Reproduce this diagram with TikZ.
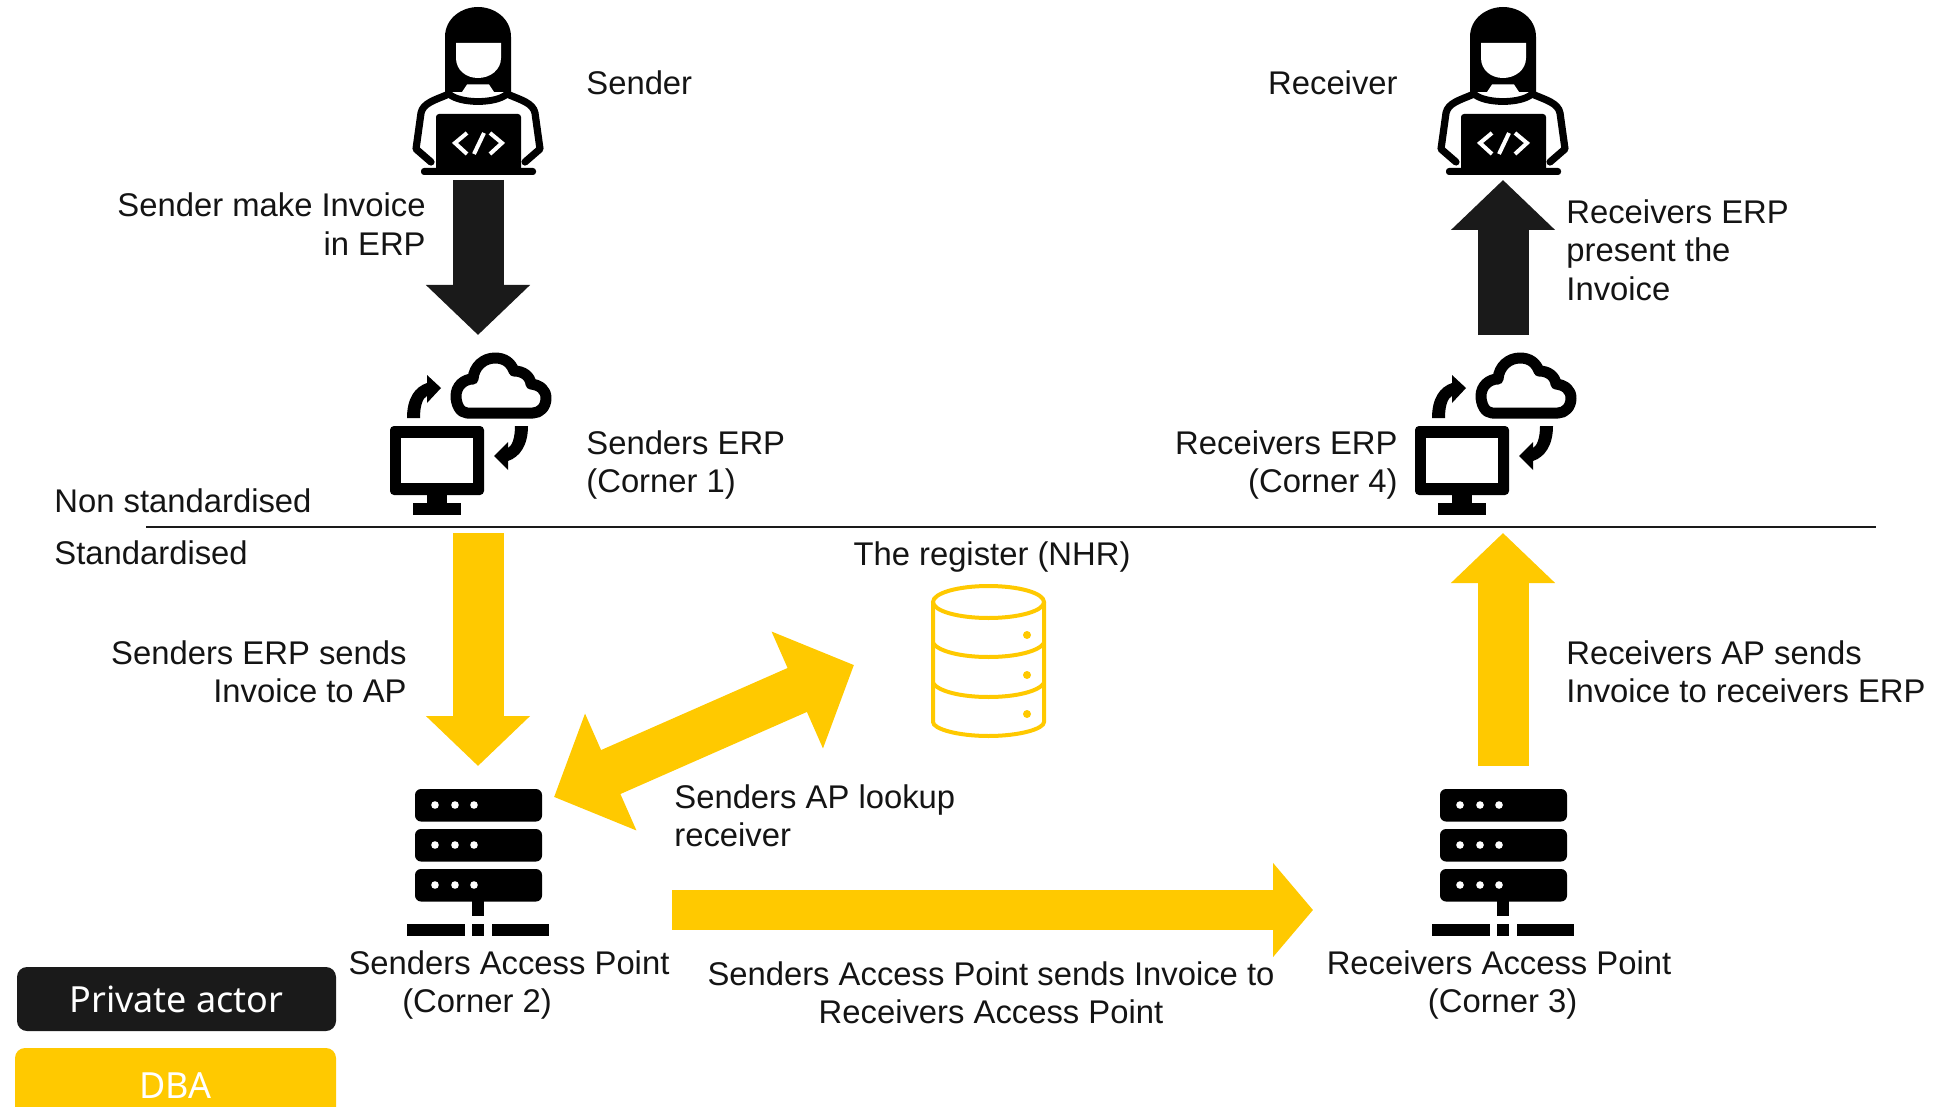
\documentclass[tikz,border=0pt]{standalone}
\usepackage{fontspec}
\setmainfont{Liberation Sans}
\newfontfamily\legendfont{Noto Sans}
\usetikzlibrary{arrows.meta}
\definecolor{dbayellow}{HTML}{FFC900}
\definecolor{privateblack}{HTML}{1A1A1A}
\tikzset{
  lbl/.style={inner sep=0pt,font=\fontsize{16.4pt}{19.25pt}\selectfont,text=black!92},
  iconbox/.style={inner sep=0pt,outer sep=0pt,minimum width=#1},
  blockdown/.style={line width=25.5pt,-{Triangle[width=50.6pt,length=25pt]}},
  blockboth/.style={line width=24pt,{Triangle[width=62pt,length=31pt]}-{Triangle[width=62pt,length=31pt]}},
  legendbox/.style={rounded corners=5pt,inner sep=0pt,text=white},
}
\newcommand{\personicon}{%
  \fill[black] (445,92) -- (445,37) .. controls (445,18) and (462,7) .. (478,7) .. controls (494,7) and (511,18) .. (511,37) -- (511,92) -- cycle;
  \fill[white] (467,84.5) -- (489,84.5) -- (494,92) .. controls (485,96) and (471,96) .. (462,92) -- cycle;
  \fill[white] (456,43) -- (501,43) -- (501,58) .. controls (501,70) and (490,78) .. (478,78) .. controls (466,78) and (456,70) .. (456,58) -- cycle;
  \draw[black,line width=3.6pt,line join=round,line cap=round] (431,162) -- (416,149) -- (421,113) .. controls (423,103) and (435,100) .. (449,94);
  \draw[black,line width=3.6pt,line join=round,line cap=round] (525,162) -- (540,149) -- (535,113) .. controls (533,103) and (521,100) .. (507,94);
  \draw[black,line width=3.4pt] (449,94) .. controls (460,104) and (496,104) .. (507,94);
  \fill[black,rounded corners=1.5pt] (436,114) rectangle (521,172);
  \fill[black,rounded corners=1.5pt] (421,168) rectangle (536,175);
  \draw[white,line width=2pt] (467,133) -- (455,143) -- (467,154) (484,133) -- (474,154) (490,133) -- (502,143) -- (490,154);
}
\newcommand{\erpicon}{%
  \draw[black,line width=5.5pt,line join=round] (467,413) .. controls (460,413) and (456,404) .. (456,396) .. controls (456,386) and (464,379) .. (473,379) .. controls (474,366) and (484,358) .. (495,358) .. controls (505,358) and (511,363) .. (514,371) .. controls (523,371) and (530,376) .. (531,384) .. controls (540,385) and (546,390) .. (546,398) .. controls (546,407) and (540,413) .. (533,413) -- cycle;
  \fill[black] (407,418) .. controls (407,398) and (415,387) .. (427,383) -- (427,375) -- (441,388) -- (427,403) -- (427,396) .. controls (423,398) and (420,405) .. (420,418) -- cycle;
  \fill[black] (528,426) .. controls (528,445) and (520,457) .. (508,461) -- (508,470) -- (494,456) -- (508,442) -- (508,448) .. controls (512,446) and (515,438) .. (515,426) -- cycle;
  \fill[black,rounded corners=2pt] (390,426) rectangle (484,495);
  \fill[white] (401,438) rectangle (473,483);
  \fill[black] (427,490) rectangle (447,505);
  \fill[black] (413,503) rectangle (461,515);
}
\newcommand{\servericon}{%
  \foreach \yt in {789,829,869} {
    \fill[black,rounded corners=3pt] (415,\yt) rectangle (542,\yt+32.5);
    \foreach \xd in {435,455,474} { \fill[white] (\xd,\yt+16) circle[radius=1.9pt]; }
  }
  \fill[black] (472,900) rectangle (484,916);
  \fill[black] (407,924) rectangle (465,936);
  \fill[black] (472,924) rectangle (484,936);
  \fill[black] (492,924) rectangle (549,936);
}
\begin{document}
\begin{tikzpicture}[x=0.5pt,y=-0.5pt]
\useasboundingbox (0,0) rectangle (1938,1107);
\begin{scope}
\clip (0,0) rectangle (1938,1107);

% icons
\personicon
\begin{scope}[shift={(1025,0)}]\personicon\end{scope}
\erpicon
\begin{scope}[shift={(1025,0)}]\erpicon\end{scope}
\servericon
\begin{scope}[shift={(1025,0)}]\servericon\end{scope}

% register
\begin{scope}[draw=dbayellow,line width=2pt]
  \draw (988.5,602) ellipse[x radius=27.75pt,y radius=8pt];
  \draw (933,602) -- (933,722) .. controls (933,729) and (958,736) .. (988.5,736) .. controls (1019,736) and (1044,729) .. (1044,722) -- (1044,602);
  \draw (933,643) .. controls (938,651) and (960,657) .. (988.5,657) .. controls (1017,657) and (1039,651) .. (1044,643);
  \draw (933,683) .. controls (938,691) and (960,697) .. (988.5,697) .. controls (1017,697) and (1039,691) .. (1044,683);
\end{scope}
\foreach \yd in {635,675,714} { \fill[dbayellow] (1027,\yd) circle[radius=2pt]; }

% invisible anchors of the icons
\node[iconbox=200,minimum height=88pt] (sender) at (478,92) {};
\node[iconbox=200,minimum height=99pt] (sendererp) at (478,434) {};
\node[iconbox=194,minimum height=144pt] (senderap) at (478,910) {};
\node[iconbox=200,minimum height=88pt] (receiver) at (1503,92) {};
\node[iconbox=200,minimum height=99pt] (receivererp) at (1503,434) {};
\node[iconbox=190,minimum height=144pt] (receiverap) at (1503,910) {};
\coordinate (lookupsrc) at (554,797);
\coordinate (lookupdst) at (854,665);

% connectors
\draw[blockdown,draw=privateblack] (sender.south) -- (sendererp.north);
\draw[blockdown,draw=privateblack] (receivererp.north) -- (receiver.south);
\draw[blockdown,draw=dbayellow] (sendererp.south) -- (senderap.north);
\draw[blockdown,draw=dbayellow] (receiverap.north) -- (receivererp.south);
\draw[blockdown,draw=dbayellow,line width=20pt,-{Triangle[width=46pt,length=20pt]}] (senderap.east) -- (receiverap.west);
\draw[blockboth,draw=dbayellow] (lookupsrc) -- (lookupdst);

% divider
\coordinate (divl) at (146,526.5);
\coordinate (divr) at (1876,526.5);
\draw[privateblack,line width=1pt] (divl) -- (divr);

% labels
\node[lbl,anchor=west] (tsender) at (586,83) {Sender};
\node[lbl,anchor=east] (treceiver) at (1398,83) {Receiver};
\node[lbl,anchor=east,align=right] (tmake) at (426,224) {Sender make Invoice\\in ERP};
\node[lbl,anchor=west,align=left] (tpresent) at (1566,250) {Receivers ERP\\present the\\Invoice};
\node[lbl,anchor=west,align=left] (tserp) at (586,465) {Senders ERP\\(Corner 1)};
\node[lbl,anchor=east,align=right] (trerp) at (1398,465) {Receivers ERP\\(Corner 4)};
\node[lbl,anchor=west] (tnon) at (54,501) {Non standardised};
\node[lbl,anchor=west] (tstd) at (54,553) {Standardised};
\node[lbl] (treg) at (992,557) {The register (NHR)};
\node[lbl,anchor=east,align=right] (tsends) at (407,672) {Senders ERP sends\\Invoice to AP};
\node[lbl,anchor=west,align=left] (trsends) at (1566,672) {Receivers AP sends\\Invoice to receivers ERP};
\node[lbl,anchor=west,align=left] (tlookup) at (674,816) {Senders AP lookup\\receiver};
\node[lbl,align=center] (tsap) at (509,985) {Senders Access Point\\(Corner 2)\hspace*{32pt}};
\node[lbl,align=center] (tsend) at (991,993) {Senders Access Point sends Invoice to\\Receivers Access Point};
\node[lbl,align=center] (trap) at (1499,985) {Receivers Access Point\\\hspace*{3.7pt}(Corner 3)};

% legend
\node[legendbox,fill=privateblack,minimum width=159.5pt,minimum height=32pt,font=\legendfont\fontsize{18pt}{20pt}\selectfont] (lpriv) at (176.5,999) {Private actor};
\node[legendbox,fill=dbayellow,minimum width=160.5pt,minimum height=40pt,font=\legendfont\fontsize{18pt}{20pt}\selectfont,text depth=0pt] (ldba) at (175.5,1088) {\raisebox{2.5pt}{DBA}};
\end{scope}
\end{tikzpicture}
\end{document}
